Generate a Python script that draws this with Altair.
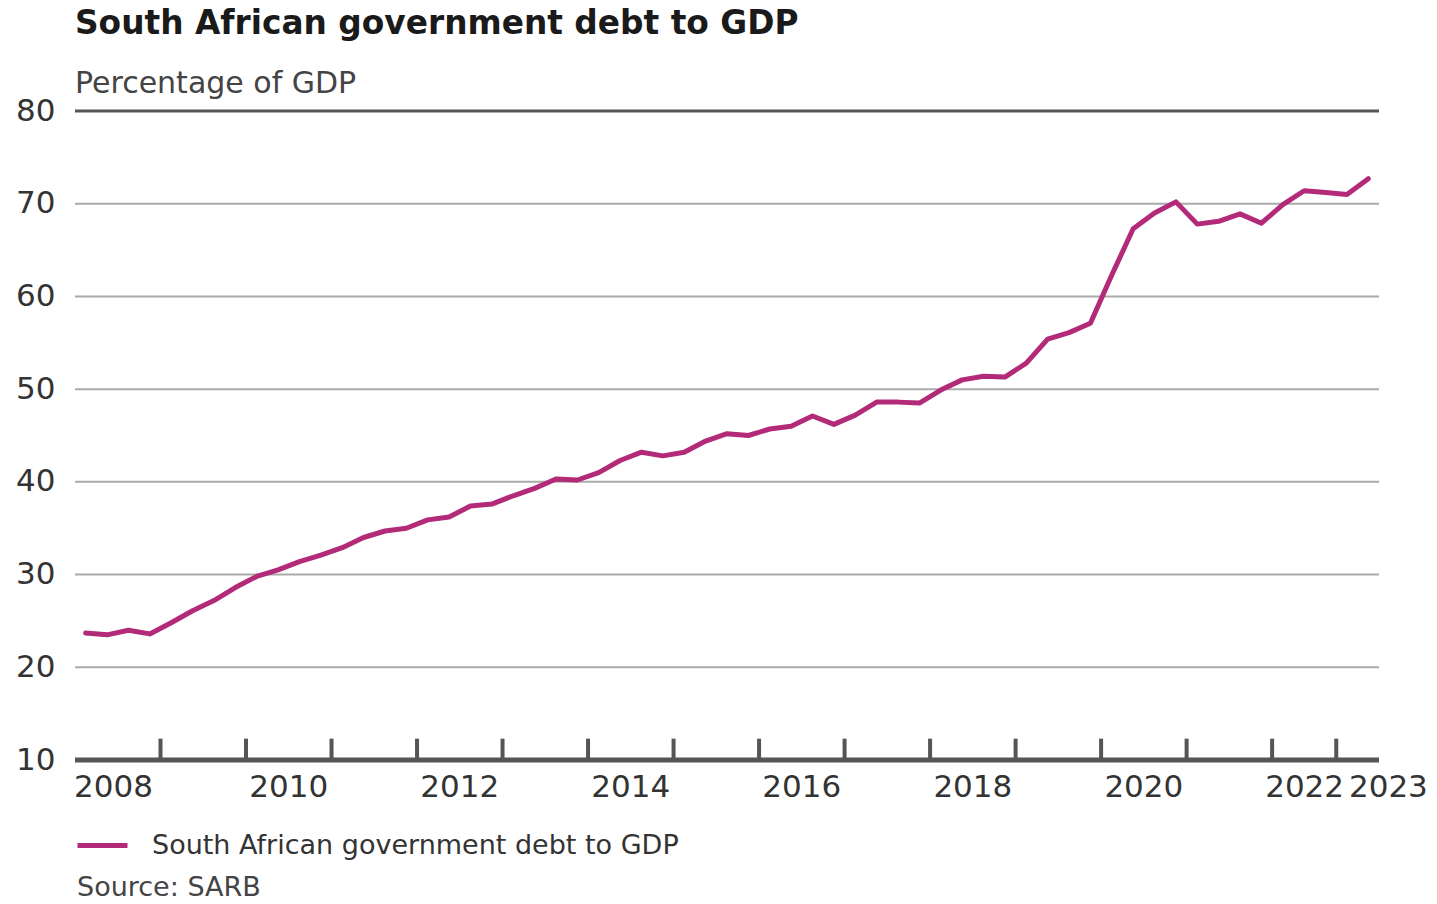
import altair as alt
import pandas as pd

# Quarterly data, 2008Q1 .. 2023Q1 (percentage of GDP)
quarters = [str(p) for p in pd.period_range("2008Q1", "2023Q1", freq="Q")]
debt = [23.7, 23.5, 24.0, 23.6, 24.8, 26.1, 27.2, 28.6, 29.8, 30.5,
        31.4, 32.1, 32.9, 34.0, 34.7, 35.0, 35.9, 36.2, 37.4, 37.6,
        38.5, 39.3, 40.3, 40.2, 41.0, 42.3, 43.2, 42.8, 43.2, 44.4,
        45.2, 45.0, 45.7, 46.0, 47.1, 46.2, 47.2, 48.6, 48.6, 48.5,
        49.9, 51.0, 51.4, 51.3, 52.8, 55.4, 56.1, 57.1, 62.3, 67.3,
        69.0, 70.2, 67.8, 68.1, 68.9, 67.9, 69.9, 71.4, 71.2, 71.0,
        72.7]
series_name = "South African government debt to GDP"

grid_values = [20, 30, 40, 50, 60, 70]
top_value = [80]
y_ticks = [10, 20, 30, 40, 50, 60, 70, 80]
x_tick_years = [2009, 2010, 2011, 2012, 2013, 2014, 2015, 2016, 2017, 2018,
                2019, 2020, 2021, 2022, 2022.75]
x_label_text = ["2008", "2010", "2012", "2014", "2016", "2018", "2020", "2022", "2023"]
x_label_pos = [2008.45, 2010.5, 2012.5, 2014.5, 2016.5, 2018.5, 2020.5, 2022.38, 2023.36]

FONT = "DejaVu Sans"
LINE_COLOR = "#b22a78"

def qfrac(q):
    y, n = q.split("Q")
    return int(y) + (int(n) - 0.5) / 4

df = pd.DataFrame({"quarter": quarters, "t": [qfrac(q) for q in quarters],
                   "value": debt, "series": series_name})
grid_df = pd.DataFrame({"v": grid_values})
top_df = pd.DataFrame({"v": top_value})
xtick_df = pd.DataFrame({"t": x_tick_years, "lo": 10, "hi": 12.3})
xlab_df = pd.DataFrame({"t": x_label_pos, "label": x_label_text})
axis_df = pd.DataFrame({"t": [2008], "t2": [2023.25], "v": [10]})

W, H = 1304, 649
xs = alt.Scale(domain=[2008, 2023.25], nice=False, zero=False)
ys = alt.Scale(domain=[10, 80], nice=False, zero=False)

grid = alt.Chart(grid_df).mark_rule(color="#aaaaaa", strokeWidth=2).encode(
    y=alt.Y("v:Q", scale=ys, axis=alt.Axis(
        values=y_ticks, grid=False, domain=False, ticks=False,
        labelPadding=20, labelFontSize=31, labelFont=FONT, labelColor="#333333",
        title=None)),
    x=alt.value(0), x2=alt.value(W))

top = alt.Chart(top_df).mark_rule(color="#555555", strokeWidth=3).encode(
    y=alt.Y("v:Q", scale=ys), x=alt.value(0), x2=alt.value(W))

baseline = alt.Chart(axis_df).mark_rule(color="#555555", strokeWidth=5).encode(
    x=alt.X("t:Q", scale=xs, axis=None), x2="t2:Q",
    y=alt.Y("v:Q", scale=ys))

xticks = alt.Chart(xtick_df).mark_rule(color="#555555", strokeWidth=4).encode(
    x=alt.X("t:Q", scale=xs, axis=None),
    y=alt.Y("lo:Q", scale=ys), y2="hi:Q")

xlabels = alt.Chart(xlab_df).mark_text(
    font=FONT, fontSize=31, color="#333333", baseline="middle", align="center"
).encode(x=alt.X("t:Q", scale=xs, axis=None), y=alt.value(H + 28), text="label:N")

line = alt.Chart(df).mark_line(strokeWidth=5, strokeJoin="round", strokeCap="round").encode(
    x=alt.X("t:Q", scale=xs, axis=None),
    y=alt.Y("value:Q", scale=ys),
    color=alt.Color("series:N", scale=alt.Scale(range=[LINE_COLOR]),
                    legend=alt.Legend(
                        title=None, orient="none", legendX=0, legendY=H + 58,
                        symbolType="stroke", symbolStrokeWidth=5, symbolSize=2500,
                        symbolStrokeColor=LINE_COLOR,
                        labelFont=FONT, labelFontSize=27, labelColor="#333333",
                        labelOffset=22, labelLimit=0)),
    tooltip=["quarter:N", "value:Q"])

source = alt.Chart(pd.DataFrame({"s": ["Source: SARB"]})).mark_text(
    font=FONT, fontSize=27, color="#444444", align="left", baseline="middle"
).encode(x=alt.value(2), y=alt.value(H + 128), text="s:N")

chart = alt.layer(grid, top, baseline, xticks, line, xlabels, source).properties(
    width=W, height=H,
    title=alt.TitleParams(
        text="South African government debt to GDP",
        subtitle="Percentage of GDP",
        anchor="start", frame="group", offset=-4,
        font=FONT, fontSize=32.8, fontWeight="bold", color="#1a1a1a",
        subtitleFont=FONT, subtitleFontSize=30, subtitleColor="#444444",
        subtitlePadding=28),
    autosize=alt.AutoSizeParams(type="none"),
    padding={"left": 75, "top": 111, "right": 58, "bottom": 144},
).configure_view(stroke=None)

chart.save("out.html", embed_options={"renderer": "svg", "actions": False})
